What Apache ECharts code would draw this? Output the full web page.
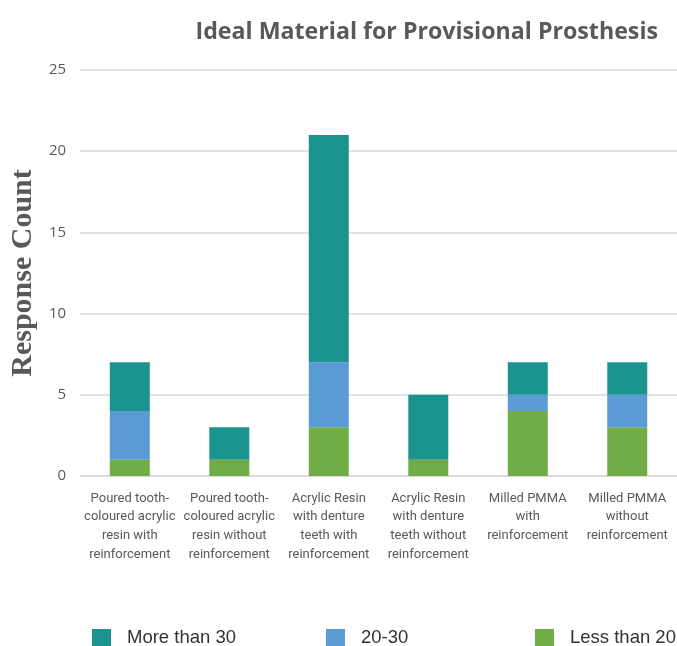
<!DOCTYPE html>
<html>
<head>
<meta charset="utf-8">
<script src="https://cdn.jsdelivr.net/npm/echarts@6/dist/echarts.min.js"></script>
<style>html,body{margin:0;padding:0;background:#fff}#c{width:677px;height:646px}</style>
</head>
<body>
<div id="c"></div>
<script>
const categories = [
  "Poured tooth-\ncoloured acrylic\nresin with\nreinforcement",
  "Poured tooth-\ncoloured acrylic\nresin without\nreinforcement",
  "Acrylic Resin\nwith denture\nteeth with\nreinforcement",
  "Acrylic Resin\nwith denture\nteeth without\nreinforcement",
  "Milled PMMA\nwith\nreinforcement",
  "Milled PMMA\nwithout\nreinforcement"
];
const lessThan20 = [1, 1, 3, 1, 4, 3];
const from20to30 = [3, 0, 4, 0, 1, 2];
const moreThan30 = [3, 2, 14, 4, 2, 2];
const yTicks = [0, 5, 10, 15, 20, 25];

const colors = { more: '#1b9490', mid: '#5b9bd5', less: '#70ad47' };

const chart = echarts.init(document.getElementById('c'), null, { renderer: 'canvas' });
const legendText = { fontFamily: 'Liberation Sans, Arial, sans-serif', fontSize: 18.5, color: '#333', padding: [0, 0, 0, 11] };
const legendBase = { top: 628, itemWidth: 19, itemHeight: 17, textStyle: legendText, icon: 'rect', padding: 0 };
chart.setOption({
  animation: false,
  title: {
    text: 'Ideal Material for Provisional Prosthesis',
    right: 14, top: 16,
    textStyle: { fontFamily: 'Open Sans, sans-serif', fontWeight: 'bold', fontSize: 23.2, color: '#595959' }
  },
  legend: [
    Object.assign({ data: ['More than 30'], left: 92 }, legendBase),
    Object.assign({ data: ['20-30'], left: 326 }, legendBase),
    Object.assign({ data: ['Less than 20'], left: 535 }, legendBase)
  ],
  grid: { left: 79, width: 600, top: 70, bottom: 170, containLabel: false },
  xAxis: {
    type: 'category',
    data: categories,
    axisLine: { show: true, lineStyle: { color: '#d9d9d9', width: 1.5 } },
    axisTick: { show: false },
    axisLabel: {
      interval: 0, margin: 13, color: '#595959', lineHeight: 18.8,
      fontFamily: 'Liberation Sans Narrow, Roboto, sans-serif', fontSize: 13
    }
  },
  yAxis: {
    type: 'value', min: 0, max: 25, interval: 5,
    name: 'Response Count', nameLocation: 'middle', nameGap: 40,
    nameTextStyle: { fontFamily: 'Liberation Serif, DejaVu Serif, serif', fontWeight: 'bold', fontSize: 30, color: '#595959' },
    axisLine: { show: false }, axisTick: { show: false },
    axisLabel: {
      margin: 14, color: '#595959', fontSize: 15, fontFamily: 'Open Sans, sans-serif',
      formatter: v => (yTicks.includes(v) ? String(v) : '')
    },
    splitLine: { lineStyle: { color: '#d9d9d9', width: 1.5 } }
  },
  series: [
    { name: 'Less than 20', type: 'bar', stack: 's', data: lessThan20, barWidth: 40, itemStyle: { color: colors.less } },
    { name: '20-30', type: 'bar', stack: 's', data: from20to30, barWidth: 40, itemStyle: { color: colors.mid } },
    { name: 'More than 30', type: 'bar', stack: 's', data: moreThan30, barWidth: 40, itemStyle: { color: colors.more } }
  ]
});
</script>
</body>
</html>
